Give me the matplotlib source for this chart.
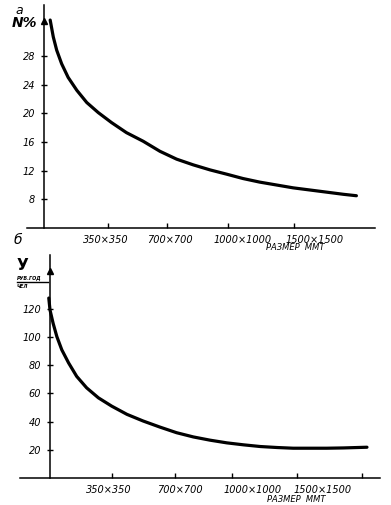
import matplotlib.pyplot as plt
from matplotlib.ticker import NullFormatter

# size categories (x axis is a category scale, origin at 0)
size_labels = ["350×350", "700×700", "1000×1000", "1500×1500"]

# panel a: N, %
top_tick_pos = [1.03, 1.98, 2.97, 4.03]
top_label_pos = [1.0, 2.03, 3.21, 4.37]
top_yticks = [8, 12, 16, 20, 24, 28]
n_x = [0.10, 0.15, 0.205, 0.285, 0.39, 0.53, 0.69, 0.875, 1.09, 1.33, 1.60,
       1.87, 2.14, 2.41, 2.68, 2.95, 3.21, 3.48, 3.75, 4.02, 4.29, 4.56, 4.83, 5.04]
n_y = [33.0, 30.65, 28.8, 26.9, 25.0, 23.2, 21.5, 20.1, 18.7, 17.3, 16.1,
       14.7, 13.6, 12.8, 12.1, 11.5, 10.9, 10.4, 10.0, 9.6, 9.3, 9.0, 8.7, 8.5]

# panel b: Y, rub/year per person
bot_tick_pos = [1.0, 2.02, 2.94, 3.98, 5.03]
bot_label_pos = [0.95, 2.1, 3.26, 4.39]
bot_yticks = [20, 40, 60, 80, 100, 120]
y_x = [-0.02, 0.0, 0.05, 0.11, 0.19, 0.30, 0.43, 0.59, 0.78, 0.995, 1.24, 1.50,
       1.77, 2.04, 2.31, 2.58, 2.85, 3.12, 3.39, 3.66, 3.92, 4.19, 4.46, 4.73, 5.11]
y_y = [127.5, 119.0, 109.6, 100.2, 90.8, 81.5, 72.0, 63.9, 56.8, 50.9, 45.1, 40.4,
       36.1, 32.1, 29.1, 26.8, 24.9, 23.5, 22.3, 21.6, 21.1, 21.1, 21.1, 21.3, 21.8]

W, H = 391, 505
fig = plt.figure(figsize=(W / 100, H / 100), dpi=100)
fig.patch.set_facecolor("white")

txt = dict(fontstyle="italic", color="black")


def make_axes(px_left, px_right, px_top, px_bottom, xlim, ylim):
    ax = fig.add_axes([px_left / W, 1 - px_bottom / H,
                       (px_right - px_left) / W, (px_bottom - px_top) / H])
    ax.set_xlim(xlim)
    ax.set_ylim(ylim)
    for s in ["top", "right"]:
        ax.spines[s].set_visible(False)
    ax.spines["left"].set_position(("data", 0))
    ax.spines["left"].set_linewidth(1.1)
    ax.spines["bottom"].set_linewidth(1.1)
    ax.tick_params(axis="y", direction="inout", length=4.5, width=1.0, pad=4, labelsize=7)
    ax.tick_params(axis="x", which="major", direction="in", length=3.5, width=1.0)
    ax.tick_params(axis="x", which="minor", length=0, pad=5, labelsize=7)
    ax.xaxis.set_major_formatter(NullFormatter())
    ax.plot(0, ylim[1] * 0.93 + ylim[0] * 0.07, marker="^", color="black",
            markersize=4, clip_on=False)
    return ax


# panel a
ax1 = make_axes(27, 375, 5, 228, (-0.274, 5.34), (4, 35.1))
ax1.plot(n_x, n_y, color="black", lw=2.3, solid_capstyle="round", solid_joinstyle="round")
ax1.set_yticks(top_yticks)
ax1.set_yticklabels([str(v) for v in top_yticks], **txt)
ax1.set_xticks(top_tick_pos)
ax1.set_xticks(top_label_pos, size_labels, minor=True, **txt)
fig.text(15 / W, 1 - 11 / H, "а", fontsize=9, ha="left", va="center", **txt)
fig.text(12 / W, 1 - 23 / H, "N%", fontsize=10, fontweight="bold", ha="left", va="center", **txt)
fig.text(295 / W, 1 - 248 / H, "РАЗМЕР  ММТ", fontsize=6, ha="center", va="center", **txt)

# panel b
ax2 = make_axes(20, 380, 255, 478, (-0.484, 5.32), (0, 158))
ax2.plot(y_x, y_y, color="black", lw=2.3, solid_capstyle="round", solid_joinstyle="round")
ax2.set_yticks(bot_yticks)
ax2.set_yticklabels([str(v) for v in bot_yticks], **txt)
ax2.set_xticks(bot_tick_pos)
ax2.set_xticks(bot_label_pos, size_labels, minor=True, **txt)
fig.text(14 / W, 1 - 240 / H, "б", fontsize=10, ha="left", va="center", **txt)
fig.text(17 / W, 1 - 265 / H, "У", fontsize=11, fontweight="bold", ha="left", va="center", color="black")
fig.text(17 / W, 1 - 278 / H, "РУБ.ГОД", fontsize=3.5, fontweight="bold", ha="left", va="center", **txt)
fig.add_artist(plt.Line2D([17 / W, 48 / W], [1 - 282 / H, 1 - 282 / H], color="black", lw=1.0))
fig.text(17 / W, 1 - 287 / H, "ЧЕЛ", fontsize=3.5, fontweight="bold", ha="left", va="center", **txt)
fig.text(296 / W, 1 - 499 / H, "РАЗМЕР  ММТ", fontsize=6, ha="center", va="center", **txt)

fig.savefig("out.png", dpi=100)
